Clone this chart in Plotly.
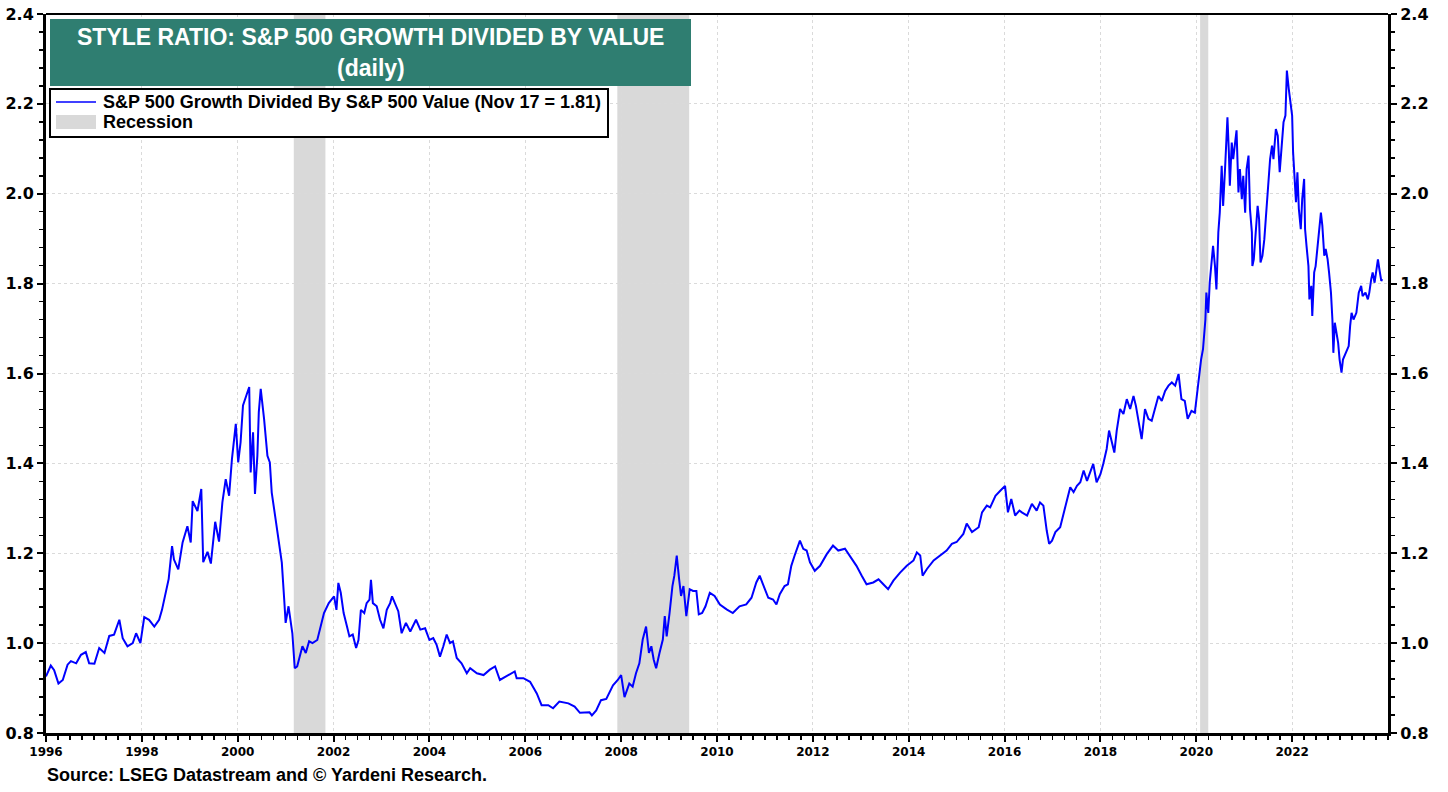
import plotly.graph_objects as go

# ---------------- data ----------------
years = [
    1996.0, 1996.1, 1996.17, 1996.26, 1996.35, 1996.45, 1996.52, 1996.63, 1996.73, 1996.83, 1996.9,
    1997.01, 1997.11, 1997.22, 1997.32, 1997.42, 1997.53, 1997.6, 1997.7, 1997.81, 1997.88, 1997.97,
    1998.05, 1998.15, 1998.26, 1998.36, 1998.42, 1998.49, 1998.56, 1998.63, 1998.67, 1998.76, 1998.85, 1998.95,
    1999.02, 1999.06, 1999.16, 1999.24, 1999.28, 1999.37, 1999.44, 1999.53, 1999.61, 1999.68, 1999.75, 1999.82, 1999.88, 1999.96,
    2000.01, 2000.06, 2000.11, 2000.18, 2000.24, 2000.27, 2000.32, 2000.36, 2000.41, 2000.44, 2000.48, 2000.55, 2000.62, 2000.67,
    2000.71, 2000.79, 2000.85, 2000.92, 2000.97,
    2001.0, 2001.06, 2001.14, 2001.19, 2001.24, 2001.35, 2001.42, 2001.49, 2001.56, 2001.66, 2001.73, 2001.8, 2001.9,
    2002.01, 2002.06, 2002.1, 2002.15, 2002.21, 2002.28, 2002.33, 2002.4, 2002.47, 2002.52, 2002.57, 2002.64, 2002.69,
    2002.75, 2002.78, 2002.82, 2002.9, 2002.97,
    2003.04, 2003.11, 2003.18, 2003.22, 2003.28, 2003.35, 2003.42, 2003.51, 2003.6, 2003.72, 2003.81, 2003.91,
    2004.0, 2004.08, 2004.15, 2004.22, 2004.29, 2004.36, 2004.43, 2004.49, 2004.57, 2004.67, 2004.78, 2004.85, 2004.99,
    2005.13, 2005.26, 2005.37, 2005.47, 2005.61, 2005.78, 2005.82, 2005.96,
    2006.1, 2006.24, 2006.34, 2006.48, 2006.58, 2006.71, 2006.9,
    2007.03, 2007.14, 2007.34, 2007.39, 2007.48, 2007.58, 2007.69, 2007.83, 2007.93,
    2008.0, 2008.07, 2008.17, 2008.24, 2008.31, 2008.38, 2008.45, 2008.52, 2008.58, 2008.63, 2008.68, 2008.73, 2008.8,
    2008.87, 2008.91, 2008.95,
    2009.01, 2009.07, 2009.11, 2009.16, 2009.21, 2009.25, 2009.3, 2009.36, 2009.43, 2009.5, 2009.57, 2009.62, 2009.69,
    2009.76, 2009.85, 2009.95,
    2010.06, 2010.2, 2010.33, 2010.47, 2010.61, 2010.72, 2010.82, 2010.89, 2010.96,
    2011.07, 2011.17, 2011.24, 2011.31, 2011.41, 2011.48, 2011.55, 2011.62, 2011.73, 2011.8, 2011.87, 2011.94,
    2012.04, 2012.15, 2012.29, 2012.42, 2012.53, 2012.67, 2012.77, 2012.91,
    2013.02, 2013.12, 2013.26, 2013.37, 2013.47, 2013.57, 2013.68, 2013.82, 2013.96,
    2014.1, 2014.17, 2014.24, 2014.29, 2014.38, 2014.52, 2014.66, 2014.79, 2014.9,
    2015.0, 2015.14, 2015.21, 2015.32, 2015.46, 2015.53, 2015.63, 2015.7, 2015.81, 2015.91,
    2016.01, 2016.07, 2016.14, 2016.22, 2016.31, 2016.36, 2016.47, 2016.57, 2016.67, 2016.74, 2016.81, 2016.88, 2016.93, 2016.99,
    2017.06, 2017.16, 2017.23, 2017.3, 2017.37, 2017.44, 2017.51, 2017.58, 2017.65, 2017.72, 2017.78, 2017.85, 2017.92,
    2018.0, 2018.06, 2018.13, 2018.18, 2018.24, 2018.29, 2018.34, 2018.41, 2018.48, 2018.55, 2018.62, 2018.69, 2018.74,
    2018.79, 2018.86, 2018.93,
    2019.0, 2019.07, 2019.14, 2019.21, 2019.28, 2019.35, 2019.42, 2019.49, 2019.56, 2019.63, 2019.69, 2019.76, 2019.82,
    2019.9, 2019.97,
    2020.05, 2020.1, 2020.14, 2020.19, 2020.21, 2020.25, 2020.28, 2020.32, 2020.35, 2020.39, 2020.42, 2020.46, 2020.49,
    2020.53, 2020.56, 2020.6, 2020.63, 2020.65, 2020.68, 2020.7, 2020.74, 2020.77, 2020.81, 2020.84, 2020.88, 2020.91,
    2020.95, 2020.98,
    2021.02, 2021.05, 2021.09, 2021.12, 2021.16, 2021.17, 2021.2, 2021.23, 2021.28, 2021.31, 2021.34, 2021.38, 2021.42,
    2021.45, 2021.48, 2021.51, 2021.54, 2021.58, 2021.61, 2021.66, 2021.7, 2021.74, 2021.77, 2021.82, 2021.86, 2021.89,
    2021.93, 2021.96,
    2022.0, 2022.02, 2022.05, 2022.08, 2022.11, 2022.14, 2022.18, 2022.21, 2022.25, 2022.27, 2022.3, 2022.34, 2022.36,
    2022.4, 2022.42, 2022.46, 2022.49, 2022.53, 2022.56, 2022.6, 2022.63, 2022.67, 2022.7, 2022.74, 2022.77, 2022.81,
    2022.84, 2022.86, 2022.89, 2022.92, 2022.96, 2022.99,
    2023.03, 2023.06, 2023.12, 2023.18, 2023.21, 2023.24, 2023.28, 2023.34, 2023.39, 2023.44, 2023.47, 2023.53, 2023.58,
    2023.61, 2023.65, 2023.68, 2023.72, 2023.75, 2023.79, 2023.82, 2023.86, 2023.88,
]

ratio = [
    0.926, 0.95, 0.94, 0.91, 0.918, 0.952, 0.96, 0.955, 0.974, 0.98, 0.955,
    0.954, 0.989, 0.978, 1.016, 1.019, 1.052, 1.011, 0.993, 1.0, 1.022, 1.0,
    1.058, 1.052, 1.037, 1.052, 1.074, 1.11, 1.143, 1.216, 1.186, 1.164, 1.224, 1.26,
    1.224, 1.316, 1.294, 1.343, 1.18, 1.203, 1.177, 1.27, 1.226, 1.313, 1.365, 1.328, 1.41, 1.488,
    1.402, 1.447, 1.529, 1.551, 1.57, 1.38, 1.469, 1.332, 1.417, 1.514, 1.566, 1.499, 1.417, 1.402,
    1.335, 1.276, 1.231, 1.179, 1.097,
    1.045, 1.082, 1.022, 0.944, 0.948, 0.993, 0.978, 1.004, 1.0, 1.007, 1.037, 1.067, 1.089,
    1.104, 1.074, 1.134, 1.112, 1.067, 1.037, 1.015, 1.019, 0.989, 1.007, 1.074, 1.067, 1.089,
    1.097, 1.141, 1.089, 1.082, 1.052,
    1.033, 1.074, 1.089, 1.104, 1.089, 1.071, 1.022, 1.045, 1.026, 1.052, 1.03, 1.033,
    1.007, 1.011, 0.996, 0.97, 0.993, 1.019, 1.0, 1.004, 0.967, 0.955, 0.933, 0.944, 0.933,
    0.929, 0.941, 0.948, 0.918, 0.926, 0.937, 0.922, 0.922,
    0.914, 0.888, 0.862, 0.862, 0.855, 0.87, 0.866,
    0.859, 0.845, 0.846, 0.839, 0.85, 0.873, 0.876, 0.906, 0.918,
    0.929, 0.88, 0.91, 0.903, 0.933, 0.955, 1.008, 1.037, 0.978, 0.993, 0.963, 0.944, 0.978,
    1.008, 1.06, 1.015,
    1.067, 1.127, 1.15, 1.195, 1.142, 1.105, 1.127, 1.06, 1.12, 1.116, 1.116, 1.064, 1.067,
    1.082, 1.112, 1.105,
    1.086, 1.075, 1.067, 1.082, 1.086, 1.101, 1.135, 1.15, 1.131,
    1.101, 1.097, 1.086, 1.109, 1.127, 1.131, 1.172, 1.195, 1.228, 1.21, 1.206, 1.18,
    1.161, 1.172, 1.198, 1.217, 1.206, 1.21, 1.195, 1.172,
    1.15, 1.131, 1.135, 1.142, 1.131, 1.12, 1.139, 1.157, 1.172,
    1.184, 1.202, 1.195, 1.15, 1.165, 1.184, 1.195, 1.206, 1.221,
    1.225, 1.243, 1.266, 1.247, 1.258, 1.291, 1.306, 1.302, 1.328, 1.339,
    1.35, 1.291, 1.321, 1.284, 1.295, 1.291, 1.284, 1.31, 1.295, 1.313, 1.306, 1.25, 1.221, 1.228,
    1.247, 1.258, 1.287, 1.313, 1.347, 1.336, 1.35, 1.358, 1.384, 1.361, 1.38, 1.399, 1.358,
    1.376, 1.399, 1.432, 1.473, 1.447, 1.424, 1.473, 1.521, 1.51, 1.543, 1.521, 1.55, 1.528,
    1.495, 1.454, 1.521,
    1.499, 1.495, 1.521, 1.55, 1.539, 1.561, 1.573, 1.58, 1.573, 1.599, 1.543, 1.539, 1.499,
    1.517, 1.513,
    1.594, 1.631, 1.654, 1.72, 1.78, 1.735, 1.802, 1.862, 1.884, 1.839, 1.787, 1.914, 1.958,
    2.062, 1.973, 2.055, 2.144, 2.17, 2.092, 2.018, 2.114, 2.077, 2.114, 2.141, 2.003, 2.055,
    1.988, 2.04,
    1.958, 2.055, 2.085, 1.966, 1.914, 1.839, 1.854, 1.899, 1.973, 1.944, 1.847, 1.862, 1.899,
    1.944, 1.996, 2.033, 2.077, 2.107, 2.077, 2.144, 2.129, 2.048, 2.092, 2.159, 2.174, 2.274,
    2.233, 2.211,
    2.174, 2.092, 2.04, 1.981, 2.048, 1.966, 1.921, 1.988, 2.033, 1.921, 1.884, 1.839, 1.765,
    1.795, 1.728, 1.825, 1.839, 1.884, 1.906, 1.958, 1.929, 1.862, 1.877, 1.854, 1.825, 1.78,
    1.72, 1.646, 1.713, 1.691, 1.668, 1.631,
    1.602, 1.631, 1.646, 1.661, 1.706, 1.735, 1.72, 1.735, 1.78, 1.795, 1.772, 1.78, 1.765,
    1.78, 1.81, 1.825, 1.802, 1.825, 1.854, 1.832, 1.806, 1.81,
]

recession_start = [2001.17, 2007.92, 2020.08]
recession_end = [2001.83, 2009.42, 2020.25]

y_ticks = [0.8, 1.0, 1.2, 1.4, 1.6, 1.8, 2.0, 2.2, 2.4]
x_ticks = list(range(1996, 2024, 2))

series_name = "S&P 500 Growth Divided By S&P 500 Value (Nov 17 = 1.81)"
title_line1 = "STYLE RATIO: S&P 500 GROWTH DIVIDED BY VALUE"
title_line2 = "(daily)"
source_text = "Source: LSEG Datastream and © Yardeni Research."

# ---------------- layout geometry (page pixels; body margin removed by post_script) ----------------
W, H = 1448, 792
PLOT_L, PLOT_R, PLOT_T, PLOT_B = 46, 1388, 14, 733  # page coordinates of plot frame
L, T, R, B = PLOT_L, PLOT_T, W - PLOT_R, H - PLOT_B
PW, PH = PLOT_R - PLOT_L, PLOT_B - PLOT_T


def px(x):
    return (x - PLOT_L) / PW


def py(y):
    return (PLOT_B - y) / PH


FONT = "Liberation Sans, Arial, sans-serif"
TICKFONT = "DejaVu Sans, Liberation Sans, sans-serif"
TEAL = "#2F7E71"
BLUE = "#0000FF"
GREY = "#D9D9D9"
GRID = "#DADADA"

fig = go.Figure()

fig.add_trace(go.Scatter(
    x=years, y=ratio, mode="lines",
    line=dict(color=BLUE, width=2),
    name=series_name, showlegend=False, hoverinfo="skip",
))
# invisible trace to activate right axis
fig.add_trace(go.Scatter(
    x=[years[0]], y=[ratio[0]], yaxis="y2", mode="markers",
    marker=dict(opacity=0), showlegend=False, hoverinfo="skip",
))

shapes = []
for s, e in zip(recession_start, recession_end):
    shapes.append(dict(type="rect", xref="x", yref="paper", x0=s, x1=e, y0=0, y1=1,
                       fillcolor=GREY, line=dict(width=0), layer="below"))

# title box
shapes.append(dict(type="rect", xref="paper", yref="paper",
                   x0=px(50), x1=px(691), y0=py(86), y1=py(19),
                   fillcolor=TEAL, line=dict(width=0), layer="above"))
# legend box
shapes.append(dict(type="rect", xref="paper", yref="paper",
                   x0=px(50), x1=px(608), y0=py(137), y1=py(89),
                   fillcolor="white", line=dict(color="black", width=2), layer="above"))
# legend line sample
shapes.append(dict(type="line", xref="paper", yref="paper",
                   x0=px(56), x1=px(96), y0=py(102), y1=py(102),
                   line=dict(color=BLUE, width=1.6), layer="above"))
# legend recession sample
shapes.append(dict(type="rect", xref="paper", yref="paper",
                   x0=px(56), x1=px(96), y0=py(129), y1=py(115),
                   fillcolor=GREY, line=dict(width=0), layer="above"))
# top frame line
shapes.append(dict(type="line", xref="paper", yref="paper", x0=0, x1=1, y0=1, y1=1,
                   line=dict(color="black", width=2), layer="above"))

annotations = [
    dict(text=f"<b>{title_line1}</b>", xref="paper", yref="paper", x=px(370), y=py(37),
         showarrow=False, font=dict(family=FONT, size=23, color="white"), xanchor="center", yanchor="middle"),
    dict(text=f"<b>{title_line2}</b>", xref="paper", yref="paper", x=px(371), y=py(68),
         showarrow=False, font=dict(family=FONT, size=23, color="white"), xanchor="center", yanchor="middle"),
    dict(text=f"<b>{series_name}</b>", xref="paper", yref="paper", x=px(101), y=py(102),
         showarrow=False, font=dict(family=FONT, size=18, color="black"), xanchor="left", yanchor="middle"),
    dict(text="<b>Recession</b>", xref="paper", yref="paper", x=px(101), y=py(122),
         showarrow=False, font=dict(family=FONT, size=18, color="black"), xanchor="left", yanchor="middle"),
    dict(text=f"<b>{source_text}</b>", xref="paper", yref="paper", x=px(45), y=py(775),
         showarrow=False, font=dict(family=FONT, size=18, color="black"), xanchor="left", yanchor="middle"),
]

yaxis_common = dict(
    range=[0.8, 2.4], tickvals=y_ticks, ticktext=[f"{v:.1f}" for v in y_ticks],
    ticks="outside", ticklen=6, tickwidth=2, tickcolor="black",
    showline=True, linecolor="black", linewidth=3,
    minor=dict(dtick=0.04, tick0=0.8, ticks="outside", ticklen=4, tickwidth=1.5, tickcolor="black", showgrid=False),
    tickfont=dict(family=TICKFONT, size=16, color="black", weight="bold"),
    zeroline=False, fixedrange=True, automargin=False, ticklabeloverflow="allow",
)

fig.update_layout(
    width=W, height=H,
    margin=dict(l=L, r=R, t=T, b=B, autoexpand=False),
    paper_bgcolor="white", plot_bgcolor="white",
    showlegend=False,
    hovermode=False,
    xaxis=dict(
        range=[1996, 2024], tickvals=x_ticks, ticktext=[str(v) for v in x_ticks],
        ticks="outside", ticklen=6, tickwidth=2, tickcolor="black",
        showline=True, linecolor="black", linewidth=3,
        showgrid=True, gridcolor=GRID, griddash="dot", gridwidth=1,
        minor=dict(dtick=0.25, tick0=1996, ticks="outside", ticklen=4, tickwidth=1.5, tickcolor="black", showgrid=False),
        tickfont=dict(family=TICKFONT, size=12, color="black", weight="bold"),
        zeroline=False, automargin=False, ticklabeloverflow="allow", fixedrange=True,
    ),
    yaxis=dict(**yaxis_common, side="left", showgrid=True, gridcolor=GRID, griddash="dot", gridwidth=1),
    yaxis2=dict(**yaxis_common, side="right", overlaying="y", showgrid=False),
    shapes=shapes,
    annotations=annotations,
)

fig.write_html(
    "out.html",
    config={"displayModeBar": False, "staticPlot": True},
    post_script="document.body.style.margin='0';document.body.style.overflow='hidden';",
)
